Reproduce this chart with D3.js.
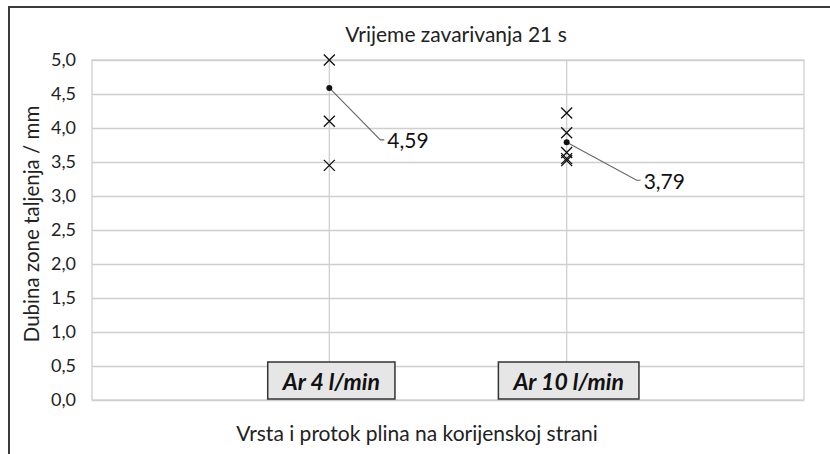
<!DOCTYPE html>
<html>
<head>
<meta charset="utf-8">
<script src="https://cdn.jsdelivr.net/npm/d3@7"></script>
<style>
  html, body { margin: 0; padding: 0; background: #fff; }
  svg { display: block; font-family: Lato, "Open Sans", sans-serif; }
</style>
</head>
<body>
<svg id="chart" width="830" height="454"></svg>
<script>
// Gas type / flow rate on the root side
const categories = ["Ar 4 l/min", "Ar 10 l/min"];
const categoryX = [1, 2];
// Individual depth measurements (mm)
const ar4Values = [5.0, 4.1, 3.45];
const ar10Values = [4.22, 3.93, 3.64, 3.55, 3.52];
// Mean depth per gas setting (mm)
const meanValues = [4.59, 3.79];
const yTicks = [0, 0.5, 1, 1.5, 2, 2.5, 3, 3.5, 4, 4.5, 5];

const title = "Vrijeme zavarivanja 21 s";
const xTitle = "Vrsta i protok plina na korijenskoj strani";
const yTitle = "Dubina zone taljenja / mm";

const svg = d3.select("#chart");
const plot = { left: 92, right: 804, top: 60, bottom: 400 };

const x = d3.scaleLinear().domain([0, 3]).range([plot.left, plot.right]);
const y = d3.scaleLinear().domain([0, 5]).range([plot.bottom, plot.top]);
const fmt = v => d3.format(".1f")(v).replace(".", ",");
const fmt2 = v => d3.format(".2f")(v).replace(".", ",");

// Outer chart frame (top and left edges)
svg.append("path")
  .attr("d", "M9,454 L9,7 L830,7")
  .attr("fill", "none").attr("stroke", "#3a3a3a").attr("stroke-width", 2);

// Horizontal gridlines + y tick labels
const yAxis = d3.axisLeft(y).tickValues(yTicks).tickFormat(fmt)
  .tickSize(-(plot.right - plot.left)).tickPadding(16);
const gy = svg.append("g").attr("transform", `translate(${plot.left},0)`).call(yAxis);
gy.select(".domain").remove();
gy.selectAll(".tick line").attr("stroke", "#cfcfcf").attr("stroke-width", 1.3);
gy.selectAll(".tick text").attr("font-size", 18).attr("fill", "#222")
  .attr("font-family", "Lato, sans-serif");

// Vertical gridlines at each category
svg.append("g").selectAll("line").data(categoryX).join("line")
  .attr("x1", d => x(d)).attr("x2", d => x(d))
  .attr("y1", plot.top).attr("y2", plot.bottom)
  .attr("stroke", "#cfcfcf").attr("stroke-width", 1.3);

// Plot area border
svg.append("rect")
  .attr("x", plot.left).attr("y", plot.top)
  .attr("width", plot.right - plot.left).attr("height", plot.bottom - plot.top)
  .attr("fill", "none").attr("stroke", "#cfcfcf").attr("stroke-width", 1.3);

// Category label boxes
const boxG = svg.append("g");
categories.forEach((c, i) => {
  const g = boxG.append("g");
  const t = g.append("text")
    .attr("x", x(categoryX[i]) + 2).attr("y", 381)
    .attr("text-anchor", "middle").attr("dominant-baseline", "central")
    .attr("font-size", 23).attr("font-weight", "bold").attr("font-style", "italic")
    .attr("fill", "#111").text(c);
  const w = t.node().getComputedTextLength() + 30;
  g.insert("rect", "text")
    .attr("x", x(categoryX[i]) + 2 - w / 2).attr("y", 362)
    .attr("width", w).attr("height", 37)
    .attr("fill", "#e6e6e6").attr("stroke", "#333").attr("stroke-width", 1.5);
});

// Individual measurements as X markers
const series = [ar4Values, ar10Values];
const marks = svg.append("g");
series.forEach((vals, i) => {
  marks.selectAll(null).data(vals).join("path")
    .attr("transform", d => `translate(${x(categoryX[i])},${y(d)})`)
    .attr("d", "M-5.5,-5.5L5.5,5.5M-5.5,5.5L5.5,-5.5")
    .attr("stroke", "#111").attr("stroke-width", 1.3).attr("fill", "none");
});

// Mean points with leader-line labels
const labelOffsets = [[51, 52], [70, 38]];
meanValues.forEach((m, i) => {
  const cx = x(categoryX[i]), cy = y(m);
  const [dx, dy] = labelOffsets[i];
  svg.append("path")
    .attr("d", `M${cx},${cy}L${cx + dx},${cy + dy}L${cx + dx + 4},${cy + dy}`)
    .attr("fill", "none").attr("stroke", "#666").attr("stroke-width", 1.1);
  svg.append("circle").attr("cx", cx).attr("cy", cy).attr("r", 3).attr("fill", "#111");
  svg.append("text")
    .attr("x", cx + dx + 7).attr("y", cy + dy)
    .attr("dominant-baseline", "central")
    .attr("font-size", 21).attr("fill", "#111").text(fmt2(m));
});

// Titles
svg.append("text").attr("x", 456).attr("y", 33)
  .attr("text-anchor", "middle").attr("dominant-baseline", "central")
  .attr("font-size", 21).attr("fill", "#222").text(title);
svg.append("text").attr("x", 417).attr("y", 432)
  .attr("text-anchor", "middle").attr("dominant-baseline", "central")
  .attr("font-size", 21).attr("fill", "#222").text(xTitle);
svg.append("text")
  .attr("transform", "translate(31,224) rotate(-90)")
  .attr("text-anchor", "middle").attr("dominant-baseline", "central")
  .attr("font-size", 20.5).attr("fill", "#222").text(yTitle);
</script>
</body>
</html>
